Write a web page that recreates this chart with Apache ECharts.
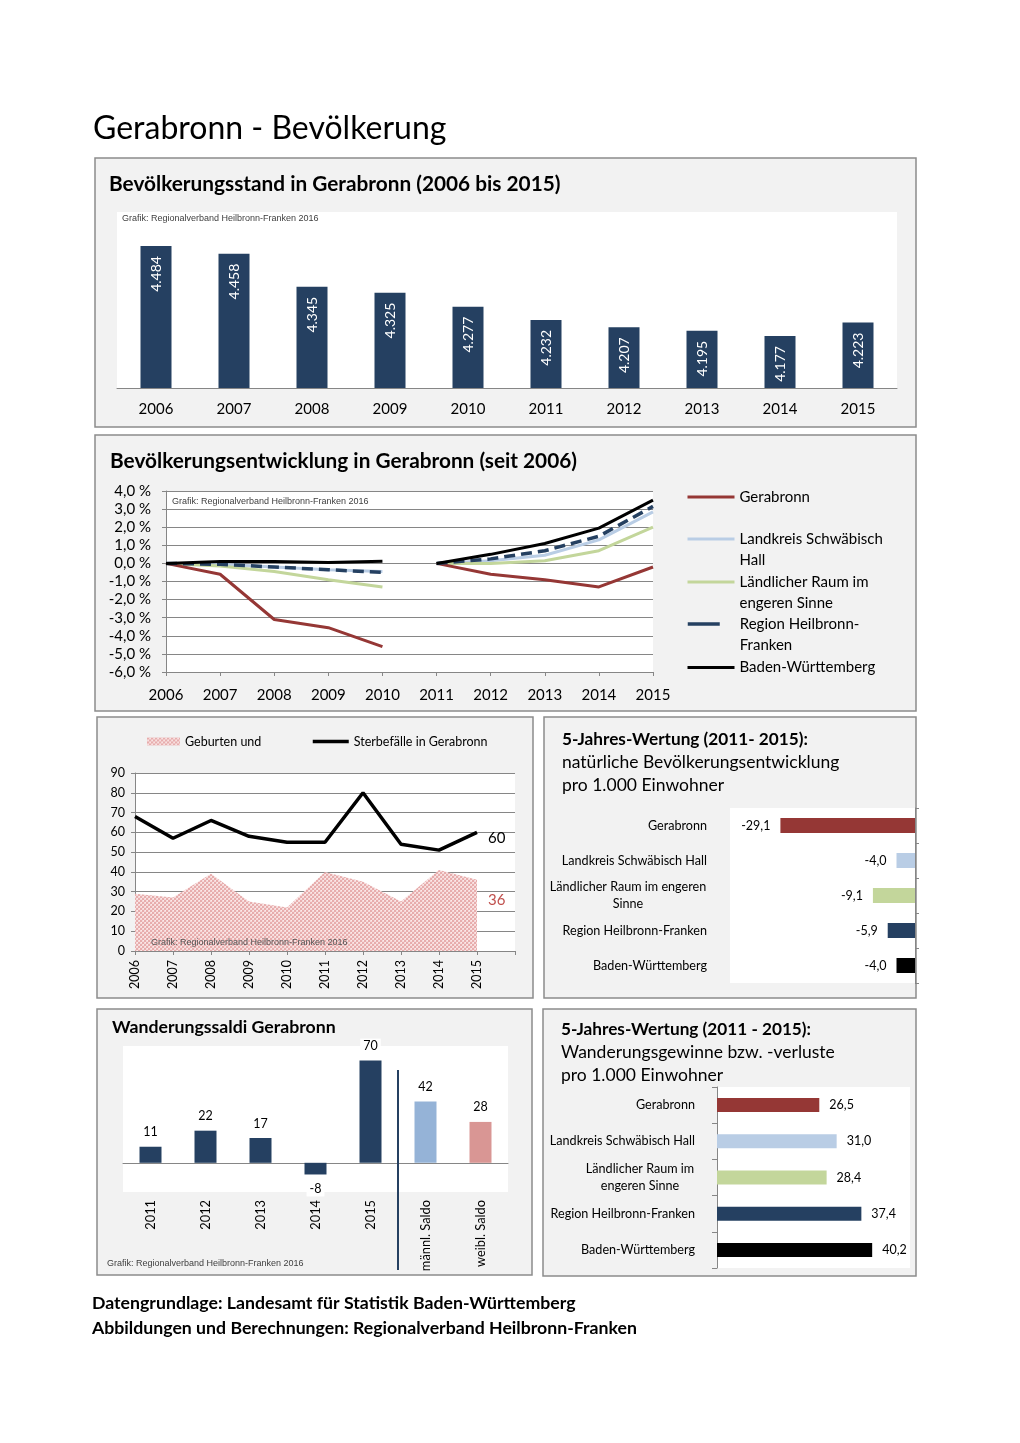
<!DOCTYPE html>
<html><head><meta charset="utf-8">
<script src="https://cdn.jsdelivr.net/npm/echarts@6/dist/echarts.min.js"></script>
<style>html,body{margin:0;padding:0;background:#fff}#c{width:1020px;height:1443px}</style>
</head><body><div id="c"></div>
<script>
// ---------- DATA ----------
const standYears = ['2006','2007','2008','2009','2010','2011','2012','2013','2014','2015'];
const standValues = [4484,4458,4345,4325,4277,4232,4207,4195,4177,4223];

const devYears = ['2006','2007','2008','2009','2010','2011','2012','2013','2014','2015'];
const devGerabronn = [0,-0.6,-3.1,-3.55,-4.6, 0,-0.6,-0.9,-1.3,-0.2];
const devLandkreis = [0,-0.05,-0.2,-0.35,-0.45, 0,0.15,0.45,1.3,2.85];
const devLaendlich = [0,-0.15,-0.45,-0.9,-1.3, 0,0,0.15,0.7,2.0];
const devRegion = [0,-0.05,-0.2,-0.35,-0.5, 0,0.25,0.7,1.5,3.15];
const devBW = [0,0.1,0.1,0.05,0.12, 0,0.5,1.1,1.95,3.5];
const devTickMin = -6, devTickMax = 4, devTickStep = 1;

const gdYears = ['2006','2007','2008','2009','2010','2011','2012','2013','2014','2015'];
const births = [29,27,39,25,22,40,35,25,41,36];
const deaths = [68,57,66,58,55,55,80,54,51,60];
const gdTickMin = 0, gdTickMax = 90, gdTickStep = 10;

const regions = ['Gerabronn','Landkreis Schwäbisch Hall','Ländlicher Raum im engeren Sinne','Region Heilbronn-Franken','Baden-Württemberg'];
const natural5 = [-29.1,-4.0,-9.1,-5.9,-4.0];

const migCats = ['2011','2012','2013','2014','2015','männl. Saldo','weibl. Saldo'];
const migValues = [11,22,17,-8,70,42,28];

const migration5 = [26.5,31.0,28.4,37.4,40.2];

// ---------- STYLE ----------
const FONT = 'Lato';
const AX = '#868686';
const NAVY = '#254061';
const regionColors = ['#953735','#b9cde5','#c3d69b','#254061','#000000'];
const migColors = [NAVY,NAVY,NAVY,NAVY,NAVY,'#95b3d7','#d99694'];
const CREDIT = 'Grafik: Regionalverband Heilbronn-Franken 2016';
const CATSIZE = 12.6;

function makePattern(){
  const c = document.createElement('canvas'); c.width = 4; c.height = 4;
  const g = c.getContext('2d');
  g.fillStyle = '#f6d9d9'; g.fillRect(0,0,4,4);
  g.fillStyle = '#e7adad';
  g.fillRect(0,0,2,2); g.fillRect(2,2,2,2);
  g.fillStyle = '#fbeaea';
  g.fillRect(3,0,1,1); g.fillRect(1,2,1,1);
  return {image:c, repeat:'repeat'};
}
const pinkPattern = makePattern();

const mctx = document.createElement('canvas').getContext('2d');
function measure(t, size){ mctx.font = size+'px '+FONT; return mctx.measureText(t).width; }

const wrap4 = {'Ländlicher Raum im engeren Sinne':['Ländlicher Raum im engeren','Sinne']};
const wrap6 = {'Ländlicher Raum im engeren Sinne':['Ländlicher Raum im','engeren Sinne']};
const W4 = Math.ceil(measure('Ländlicher Raum im engeren',CATSIZE))+1;
const W6 = Math.ceil(measure('Ländlicher Raum im',CATSIZE))+1;
function catFormatter(wrap, key){
  return v => { const l = wrap[v]; if (!l) return v; return l.map(s=>'{'+key+'|'+s+'}').join('\n'); };
}
const comma = v => v.toFixed(1).replace('.',',');
const thousands = v => String(v).replace(/\B(?=(\d{3})+(?!\d))/g,'.');

// blank leading line keeps the first text line level with the legend line sample
const legendWrap = {
  'Landkreis Schwäbisch Hall':'\nLandkreis Schwäbisch\nHall',
  'Ländlicher Raum im engeren Sinne':'\nLändlicher Raum im\nengeren Sinne',
  'Region Heilbronn-Franken':'\nRegion Heilbronn-\nFranken'
};
function devLegend(name, top, dashed){
  return {
    left: 686, top: top, padding: 0, itemWidth: 47, itemHeight: 14, selectedMode: false,
    itemStyle: {opacity: 0},
    lineStyle: dashed ? {width: 3.5, type: [32, 15]} : {width: 3},
    data: [name],
    formatter: n => legendWrap[n] || n,
    textStyle: {fontSize:15, lineHeight:21, color:'#000', fontFamily:FONT}
  };
}

const chart = echarts.init(document.getElementById('c'), null, {renderer:'canvas', width:1020, height:1443});

const gridBase = {show:true, backgroundColor:'#fff', borderWidth:0, containLabel:false};
const grids = [
  Object.assign({left:117, top:212, width:780, height:176}, gridBase),
  Object.assign({left:166, top:491, width:487, height:181}, gridBase),
  Object.assign({left:135, top:773, width:380, height:178}, gridBase),
  Object.assign({left:730, top:808, width:185, height:175}, gridBase),
  Object.assign({left:123, top:1046, width:385, height:146}, gridBase),
  Object.assign({left:717, top:1087, width:193, height:181}, gridBase)
];

function devPair(name, values, color, z, dashed){
  const common = {
    type:'line', name:name, xAxisIndex:1, yAxisIndex:1, symbol:'none', z:z,
    lineStyle:{color:color, width: dashed ? 3.5 : 3, type: dashed ? [11,6] : 'solid'},
    itemStyle:{color:color}
  };
  return [
    Object.assign({}, common, {data: values.map((v,i)=> i<5 ? v : null)}),
    Object.assign({}, common, {data: values.map((v,i)=> i>=5 ? v : null)})
  ];
}

const option = {
  animation:false,
  textStyle:{fontFamily:FONT, color:'#000'},
  grid: grids,
  legend: [
    devLegend('Gerabronn', 486.5),
    devLegend('Landkreis Schwäbisch Hall', 507.5),
    devLegend('Ländlicher Raum im engeren Sinne', 550.5),
    devLegend('Region Heilbronn-Franken', 592.5, true),
    devLegend('Baden-Württemberg', 657),
    {left:147, top:735, padding:0, itemWidth:33, itemHeight:8, selectedMode:false,
     data:[{name:'Geburten und', icon:'rect', itemStyle:{color:pinkPattern, borderWidth:0}}],
     textStyle:{fontSize:12.5, color:'#000', fontFamily:FONT}},
    {left:311, top:735, padding:0, itemWidth:36, itemHeight:14, selectedMode:false,
     itemStyle:{opacity:0}, lineStyle:{width:3.5},
     data:['Sterbefälle in Gerabronn'],
     textStyle:{fontSize:12.5, color:'#000', fontFamily:FONT}}
  ],
  xAxis: [
    {gridIndex:0, type:'category', data:standYears,
     axisLine:{lineStyle:{color:AX}}, axisTick:{length:5, lineStyle:{color:AX}},
     axisLabel:{fontSize:15, color:'#000', margin:14}},
    {gridIndex:1, type:'category', data:devYears, boundaryGap:false,
     axisLine:{onZero:false, lineStyle:{color:AX}}, axisTick:{length:4, lineStyle:{color:AX}},
     axisLabel:{fontSize:15, color:'#000', margin:16}},
    {gridIndex:2, type:'category', data:gdYears.concat(['']), boundaryGap:false,
     axisLine:{onZero:false, lineStyle:{color:AX}}, axisTick:{length:4, lineStyle:{color:AX}},
     axisLabel:{fontSize:12.5, color:'#000', rotate:90, margin:9}},
    {gridIndex:3, type:'value', min:-40, max:0, show:false},
    {gridIndex:4, type:'category', data:migCats, position:'bottom',
     axisLine:{onZero:true, lineStyle:{color:AX}}, axisTick:{length:5, lineStyle:{color:AX}},
     axisLabel:{show:false}},
    {gridIndex:4, type:'category', data:migCats, position:'bottom',
     axisLine:{show:false, onZero:false}, axisTick:{show:false},
     axisLabel:{fontSize:12.8, color:'#000', rotate:90, margin:8}},
    {gridIndex:5, type:'value', min:0, max:50, show:false}
  ],
  yAxis: [
    {gridIndex:0, type:'value', min:4000, max:4600, show:false},
    {gridIndex:1, type:'value', min:devTickMin, max:devTickMax, interval:devTickStep,
     axisLine:{show:true, lineStyle:{color:AX}}, axisTick:{show:true, length:4, lineStyle:{color:AX}},
     splitLine:{lineStyle:{color:AX, width:1}},
     axisLabel:{fontSize:15, color:'#000', margin:15, formatter: v => comma(v)+' %'}},
    {gridIndex:2, type:'value', min:gdTickMin, max:gdTickMax, interval:gdTickStep,
     axisLine:{show:true, lineStyle:{color:AX}}, axisTick:{show:true, length:4, lineStyle:{color:AX}},
     splitLine:{lineStyle:{color:AX, width:1}},
     axisLabel:{fontSize:12.5, color:'#000', margin:10}},
    {gridIndex:3, type:'category', data:regions, inverse:true, position:'left',
     axisLine:{show:false, onZero:false}, axisTick:{show:false},
     axisLabel:{fontSize:CATSIZE, color:'#000', margin:23, lineHeight:17,
       formatter: catFormatter(wrap4,'c'), rich:{c:{width:W4, align:'center', fontSize:CATSIZE, lineHeight:17}}}},
    {gridIndex:3, type:'category', data:regions, inverse:true, position:'right',
     axisLine:{show:true, onZero:false, lineStyle:{color:AX}}, axisTick:{show:true, length:4, lineStyle:{color:AX}},
     axisLabel:{show:false}},
    {gridIndex:4, type:'value', min:-20, max:80, show:false},
    {gridIndex:5, type:'category', data:regions, inverse:true, position:'left',
     axisLine:{show:true, onZero:false, lineStyle:{color:AX}}, axisTick:{show:true, length:5, lineStyle:{color:AX}},
     axisLabel:{fontSize:CATSIZE, color:'#000', margin:22, lineHeight:17,
       formatter: catFormatter(wrap6,'c'), rich:{c:{width:W6, align:'center', fontSize:CATSIZE, lineHeight:17}}}}
  ],
  series: [].concat(
    [{type:'bar', xAxisIndex:0, yAxisIndex:0, data:standValues, barWidth:31,
      itemStyle:{color:NAVY},
      label:{show:true, position:'insideTop', rotate:90, align:'right', verticalAlign:'middle',
             distance:10, color:'#fff', fontSize:14, formatter: p => thousands(p.value)}}],
    devPair('Landkreis Schwäbisch Hall', devLandkreis, '#b9cde5', 2),
    devPair('Ländlicher Raum im engeren Sinne', devLaendlich, '#c3d69b', 3),
    devPair('Gerabronn', devGerabronn, '#953735', 4),
    devPair('Region Heilbronn-Franken', devRegion, NAVY, 5, true),
    devPair('Baden-Württemberg', devBW, '#000000', 6),
    [{type:'line', name:'Geburten und', xAxisIndex:2, yAxisIndex:2, data:births, symbol:'none',
      lineStyle:{width:0, color:'#e6b9b8'}, itemStyle:{color:'#e6b9b8'},
      areaStyle:{color:pinkPattern, opacity:1}, z:1,
      endLabel:{show:true, formatter: p => p.value, color:'#c0504d', fontSize:15, offset:[3,20]}},
     {type:'line', name:'Sterbefälle in Gerabronn', xAxisIndex:2, yAxisIndex:2, data:deaths, symbol:'none',
      lineStyle:{width:3.5, color:'#000'}, itemStyle:{color:'#000'}, z:3,
      endLabel:{show:true, formatter: p => p.value, color:'#000', fontSize:15, offset:[3,6]}},
     {type:'bar', xAxisIndex:3, yAxisIndex:3, barWidth:15,
      data: natural5.map((v,i)=>({value:v, itemStyle:{color:regionColors[i]}})),
      label:{show:true, position:'left', distance:10, fontSize:12.5, color:'#000', formatter: p => comma(p.value)}},
     {type:'bar', xAxisIndex:4, yAxisIndex:5, barWidth:22,
      data: migValues.map((v,i)=>({value:v, itemStyle:{color:migColors[i]}, label:{position: v<0 ? 'bottom' : 'top'}})),
      label:{show:true, distance:7, fontSize:12.5, color:'#000', backgroundColor:'#fff', padding:[1,3]}},
     {type:'bar', xAxisIndex:6, yAxisIndex:6, barWidth:14,
      data: migration5.map((v,i)=>({value:v, itemStyle:{color:regionColors[i]}})),
      label:{show:true, position:'right', distance:10, fontSize:12.5, color:'#000', formatter: p => comma(p.value)}}]
  )
};
chart.setOption(option);

// separator between years and gender bars, located via the axis scale
const sepX = (chart.convertToPixel({xAxisIndex:4}, migCats[4]) + chart.convertToPixel({xAxisIndex:4}, migCats[5])) / 2;

function panel(x,y,w,h){ return {type:'rect', z:-100, silent:true, shape:{x:x,y:y,width:w,height:h},
  style:{fill:'#f2f2f2', stroke:'#8c8c8c', lineWidth:1.5}}; }
function txt(t,x,y,size,bold,color,family){ return {type:'text', z:100, silent:true, x:x, y:y,
  style:{text:t, fill:color||'#000', font:(bold?'bold ':'')+size+'px '+(family||FONT), textVerticalAlign:'middle', textAlign:'left'}}; }
const CF = '"Liberation Sans"';

chart.setOption({
  graphic: [
    panel(95,158,821,269), panel(95,435,821,276), panel(97,717,436,281),
    panel(544,717,372,281), panel(97,1009,435,266), panel(543,1009,373,267),
    txt('Gerabronn - Bevölkerung', 93, 129, 32, false),
    txt('Bevölkerungsstand in Gerabronn (2006 bis 2015)', 109, 184, 20.8, true),
    txt(CREDIT, 122, 219, 9, false, '#404040', CF),
    txt('Bevölkerungsentwicklung in Gerabronn (seit 2006)', 110, 461, 20.8, true),
    txt(CREDIT, 172, 502, 9, false, '#404040', CF),
    txt(CREDIT, 151, 943, 9, false, '#555555', CF),
    txt('5-Jahres-Wertung (2011- 2015):', 562, 739, 17.2, true),
    txt('natürliche Bevölkerungsentwicklung', 562, 762, 17.5, false),
    txt('pro 1.000 Einwohner', 562, 785, 17.5, false),
    txt('Wanderungssaldi Gerabronn', 112, 1027, 17.7, true),
    txt(CREDIT, 107, 1264, 9, false, '#404040', CF),
    txt('5-Jahres-Wertung (2011 - 2015):', 561, 1029, 17.2, true),
    txt('Wanderungsgewinne bzw. -verluste', 561, 1052, 17.5, false),
    txt('pro 1.000 Einwohner', 561, 1075, 17.5, false),
    txt('Datengrundlage: Landesamt für Statistik Baden-Württemberg', 92, 1303, 17.7, true),
    txt('Abbildungen und Berechnungen: Regionalverband Heilbronn-Franken', 92, 1328, 17.7, true),
    {type:'line', z:50, silent:true, shape:{x1:sepX, y1:1070, x2:sepX, y2:1270}, style:{stroke:NAVY, lineWidth:2}}
  ]
});
</script>
</body></html>
